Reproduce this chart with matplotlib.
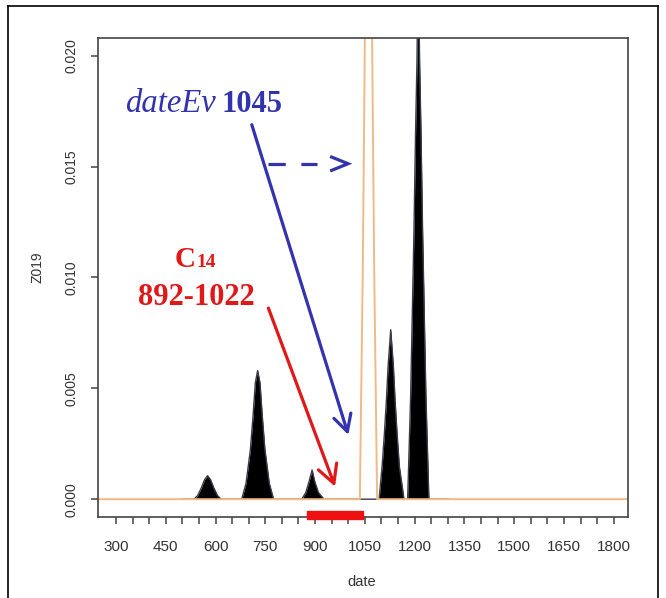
import matplotlib.pyplot as plt
from matplotlib.lines import Line2D
from matplotlib.patches import Rectangle

# black density (dates / values)
black_date = [500, 535, 546, 557, 567, 576, 585, 595, 606, 617,
              679, 692, 705, 713, 720, 727, 734, 741, 749, 762, 775,
              860, 872, 882, 891, 899, 910, 927,
              1093, 1102, 1109, 1115, 1120, 1128, 1136, 1141, 1147, 1154, 1168,
              1179, 1188, 1198, 1203, 1207, 1210, 1211, 1212, 1215, 1219, 1224, 1234, 1243,
              1300]
black_dens = [0, 0, 0.00016, 0.0005, 0.00088, 0.00106, 0.00088, 0.0005, 0.00016, 0,
              0, 0.00072, 0.00222, 0.00373, 0.00525, 0.0058, 0.00525, 0.00373, 0.00222, 0.00072, 0,
              0, 0.0003, 0.0008, 0.00132, 0.0008, 0.0003, 0,
              0, 0.00147, 0.00298, 0.00448, 0.00598, 0.00764, 0.00598, 0.00448, 0.00298, 0.00147, 0,
              0, 0.00463, 0.0121, 0.0167, 0.0197, 0.0235, 0.026, 0.0235, 0.0197, 0.0167, 0.0121, 0.00463, 0,
              0]

# orange curve (dateEv)
orange_date = [240, 1035, 1044, 1050, 1061, 1072, 1078, 1087, 1850]
orange_dens = [0, 0, 0.0106, 0.0207, 0.042, 0.0207, 0.0106, 0, 0]

c14_start, c14_end = 877, 1044

xticks = list(range(300, 1801, 50))
xlabels = [str(t) if t % 150 == 0 else '' for t in xticks]
yticks = [0.000, 0.005, 0.010, 0.015, 0.020]
ylabels = ['0.000', '0.005', '0.010', '0.015', '0.020']

W, H = 666, 598
fig = plt.figure(figsize=(W / 100, H / 100), dpi=100)
plt.rcParams['font.family'] = ['Liberation Sans', 'DejaVu Sans']
ax = fig.add_axes([97.7 / W, 1 - 516.7 / H, (628 - 97.7) / W, (516.7 - 38) / H])

ax.fill_between(black_date, black_dens, 0, color='black', lw=0)
ax.plot(black_date, black_dens, color='#3a3a48', lw=1.0)
ax.plot(orange_date, orange_dens, color='#f2b982', lw=1.4)

ax.set_xlim(245, 1843)
ax.set_ylim(-0.00079, 0.0208)

ax.set_xticks(xticks)
ax.set_xticklabels(xlabels)
ax.set_yticks(yticks)
ax.set_yticklabels(ylabels, rotation=90, va='center')
ax.tick_params(axis='x', length=5, width=1.1, color='#444444', pad=12,
               labelsize=11, labelcolor='#333333')
ax.tick_params(axis='y', length=5, width=1.1, color='#444444', pad=9,
               labelsize=10, labelcolor='#333333')
for s in ax.spines.values():
    s.set_color('#444444')
    s.set_linewidth(1.2)

# C14 range bar under the axis
ax.add_patch(Rectangle((c14_start, -0.00089), c14_end - c14_start, 0.00037,
                       color='#ee1111', clip_on=False, zorder=5))

blue = '#3333b0'
red = '#e01818'

ax.annotate('', xy=(1000.3, 0.0029), xytext=(709.3, 0.01689),
            arrowprops=dict(arrowstyle='->, head_length=0.6, head_width=0.32',
                            color=blue, lw=2.3, shrinkA=0, shrinkB=0,
                            mutation_scale=20))
ax.annotate('', xy=(960.2, 0.00057), xytext=(759.3, 0.00862),
            arrowprops=dict(arrowstyle='->, head_length=0.65, head_width=0.35',
                            color=red, lw=2.3, shrinkA=0, shrinkB=0,
                            mutation_scale=20))
# dashed arrow
ax.plot([758.4, 905], [0.01513, 0.01513], color=blue, lw=2.3,
        dashes=(5.4, 4.9), dash_capstyle='butt')
ax.plot([950, 999.4, 950], [0.01543, 0.01513, 0.01483], color=blue, lw=2.3,
        solid_joinstyle='miter')

serif = ['Liberation Serif', 'DejaVu Serif']
fig.text(125 / W, 1 - 111.7 / H, 'dateEv', family=serif, style='italic',
         fontsize=23.5, color=blue, va='baseline')
fig.text(222 / W, 1 - 111.7 / H, '1045', family=serif, weight='bold',
         fontsize=22, color=blue, va='baseline')
fig.text(175 / W, 1 - 266.7 / H, 'C', family=serif, weight='bold',
         fontsize=21, color=red, va='baseline')
fig.text(196.5 / W, 1 - 266.7 / H, '14', family=serif, weight='bold',
         fontsize=14, color=red, va='baseline')
fig.text(196.7 / W, 1 - 305 / H, '892-1022', family=serif, weight='bold',
         fontsize=22, color=red, va='baseline', ha='center')

fig.text(37 / W, 1 - 267.5 / H, 'Z019', rotation=90, ha='center', va='center',
         fontsize=10, color='#333333')
fig.text(362 / W, 1 - 582 / H, 'date', ha='center', va='center',
         fontsize=10.5, color='#333333')

# outer frame of the picture
frame = dict(color='black', lw=1.2, transform=fig.transFigure)
fig.add_artist(Line2D([8 / W, 8 / W], [0, 1 - 6 / H], **frame))
fig.add_artist(Line2D([8 / W, 658 / W], [1 - 6 / H, 1 - 6 / H], **frame))
fig.add_artist(Line2D([658 / W, 658 / W], [1 - 6 / H, 0], **frame))

fig.savefig('out.png', dpi=100)
